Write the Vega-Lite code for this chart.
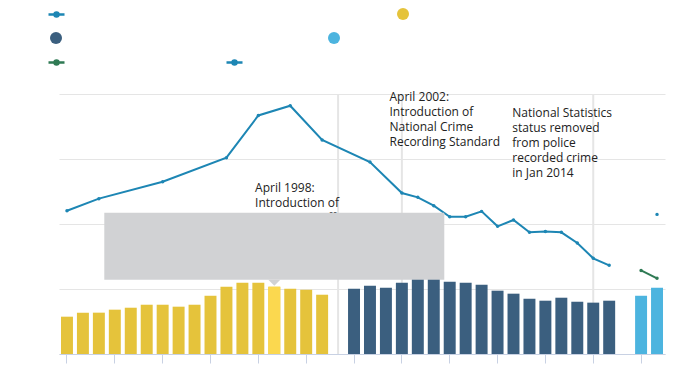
{
  "$schema": "https://vega.github.io/schema/vega-lite/v6.json",
  "width": 606,
  "height": 260,
  "autosize": {"type": "none"},
  "padding": {"left": 59, "top": 94, "right": 35, "bottom": 38},
  "background": "white",
  "config": {
    "view": {"stroke": null},
    "font": "Open Sans",
    "legend": {"padding": 0, "title": null, "labelFontSize": 1, "labelOffset": 0, "labelOpacity": 0}
  },
  "datasets": {
    "old": [
      {"period": "1981", "value": 2.87}, {"period": "1982", "value": 3.18}, {"period": "1983", "value": 3.18},
      {"period": "1984", "value": 3.41}, {"period": "1985", "value": 3.56}, {"period": "1986", "value": 3.79},
      {"period": "1987", "value": 3.79}, {"period": "1988", "value": 3.64}, {"period": "1989", "value": 3.79},
      {"period": "1990", "value": 4.48}, {"period": "1991", "value": 5.18}, {"period": "1992", "value": 5.48},
      {"period": "1993", "value": 5.48}, {"period": "1994", "value": 5.18}, {"period": "1995", "value": 5.02},
      {"period": "1996", "value": 4.95}, {"period": "1997", "value": 4.56}
    ],
    "new": [
      {"period": "1998/99", "value": 5.02}, {"period": "1999/00", "value": 5.25}, {"period": "2000/01", "value": 5.10},
      {"period": "2001/02", "value": 5.48}, {"period": "2002/03", "value": 5.85}, {"period": "2003/04", "value": 5.95},
      {"period": "2004/05", "value": 5.56}, {"period": "2005/06", "value": 5.48}, {"period": "2006/07", "value": 5.33},
      {"period": "2007/08", "value": 4.87}, {"period": "2008/09", "value": 4.64}, {"period": "2009/10", "value": 4.25},
      {"period": "2010/11", "value": 4.10}, {"period": "2011/12", "value": 4.33}, {"period": "2012/13", "value": 4.02},
      {"period": "2013/14", "value": 3.95}, {"period": "2014/15", "value": 4.10}
    ],
    "fraud": [
      {"period": "2016/17", "value": 4.48}, {"period": "2017/18", "value": 5.10}
    ],
    "csew": [
      {"period": "1981", "value": 11.02}, {"period": "1983", "value": 11.95}, {"period": "1987", "value": 13.25},
      {"period": "1991", "value": 15.1}, {"period": "1993", "value": 18.35}, {"period": "1995", "value": 19.1},
      {"period": "1997", "value": 16.46}, {"period": "1999/00", "value": 14.77}, {"period": "2001/02", "value": 12.38},
      {"period": "2002/03", "value": 12.05}, {"period": "2003/04", "value": 11.41}, {"period": "2004/05", "value": 10.56},
      {"period": "2005/06", "value": 10.56}, {"period": "2006/07", "value": 10.97}, {"period": "2007/08", "value": 9.82},
      {"period": "2008/09", "value": 10.31}, {"period": "2009/10", "value": 9.36}, {"period": "2010/11", "value": 9.43},
      {"period": "2011/12", "value": 9.36}, {"period": "2012/13", "value": 8.54}, {"period": "2013/14", "value": 7.36},
      {"period": "2014/15", "value": 6.82}
    ],
    "csewNew": [
      {"period": "2016/17", "value": 6.43}, {"period": "2017/18", "value": 5.82}
    ],
    "csewFraud": [
      {"period": "2017/18", "value": 10.74}
    ],
    "events": [
      {"period": "1997/98"}, {"period": "2001/02"}, {"period": "2013/14"}
    ]
  },
  "encoding": {
    "x": {
      "field": "period",
      "type": "ordinal",
      "scale": {
        "domain": ["1981", "1982", "1983", "1984", "1985", "1986", "1987", "1988", "1989", "1990", "1991", "1992", "1993", "1994", "1995", "1996", "1997", "1997/98", "1998/99", "1999/00", "2000/01", "2001/02", "2002/03", "2003/04", "2004/05", "2005/06", "2006/07", "2007/08", "2008/09", "2009/10", "2010/11", "2011/12", "2012/13", "2013/14", "2014/15", "2015/16", "2016/17", "2017/18"],
        "paddingInner": 0.25,
        "paddingOuter": 0.125
      },
      "axis": {
        "title": null,
        "labels": false,
        "grid": false,
        "domainColor": "#c8d1e3",
        "tickColor": "#c8d1e3",
        "tickSize": 9,
        "values": ["1981", "1984", "1987", "1990", "1993", "1996", "1998/99", "2001/02", "2004/05", "2007/08", "2010/11", "2013/14", "2016/17"]
      }
    }
  },
  "layer": [
    {
      "data": {"name": "events"},
      "mark": {"type": "rule", "color": "#e5e5e5", "strokeWidth": 2},
      "encoding": {
        "y": {"datum": 0, "type": "quantitative", "scale": {"domain": [0, 20], "nice": false},
          "axis": {"title": null, "domain": false, "ticks": false, "labels": false, "grid": true, "gridColor": "#e5e5e5", "values": [0, 5, 10, 15, 20]}},
        "y2": {"datum": 20}
      }
    },
    {
      "data": {"name": "old"},
      "mark": {"type": "bar"},
      "encoding": {
        "y": {"field": "value", "type": "quantitative"},
        "color": {
          "datum": "Police recorded crime (old counting rules)",
          "scale": {"range": ["#e5c33b"]},
          "legend": {"orient": "none", "legendX": 338, "legendY": -86, "symbolType": "circle", "symbolSize": 144, "symbolStrokeWidth": 0, "labelExpr": "''"}
        }
      }
    },
    {
      "data": {"name": "old"},
      "transform": [{"filter": "datum.period === '1994'"}],
      "mark": {"type": "bar", "color": "#fbd84f"},
      "encoding": {"y": {"field": "value", "type": "quantitative"}}
    },
    {
      "data": {"name": "new"},
      "mark": {"type": "bar"},
      "encoding": {
        "y": {"field": "value", "type": "quantitative"},
        "color": {
          "datum": "Police recorded crime",
          "scale": {"range": ["#3b5f7f"]},
          "legend": {"orient": "none", "legendX": -9, "legendY": -62, "symbolType": "circle", "symbolSize": 144, "symbolStrokeWidth": 0, "labelExpr": "''"}
        }
      }
    },
    {
      "data": {"name": "fraud"},
      "mark": {"type": "bar"},
      "encoding": {
        "y": {"field": "value", "type": "quantitative"},
        "color": {
          "datum": "Police recorded crime (new series)",
          "scale": {"range": ["#4cb4df"]},
          "legend": {"orient": "none", "legendX": 269, "legendY": -62, "symbolType": "circle", "symbolSize": 144, "symbolStrokeWidth": 0, "labelExpr": "''"}
        }
      }
    },
    {
      "data": {"name": "csew"},
      "mark": {"type": "line", "strokeWidth": 2, "point": {"filled": true, "size": 12}},
      "encoding": {
        "y": {"field": "value", "type": "quantitative"},
        "color": {
          "datum": "Crime Survey for England and Wales",
          "scale": {"range": ["#1d86b4"]},
          "legend": {
            "orient": "none", "legendX": -12, "legendY": -89, "labelExpr": "''",
            "symbolType": "M-1,0L1,0M-0.25,0A0.25,0.25,0,1,0,0.25,0A0.25,0.25,0,1,0,-0.25,0Z",
            "symbolSize": 256, "symbolStrokeWidth": 2.5,
            "encode": {"symbols": {"update": {"fill": {"value": "#1d86b4"}, "stroke": {"value": "#1d86b4"}}}}
          }
        }
      }
    },
    {
      "data": {"name": "csewNew"},
      "mark": {"type": "line", "strokeWidth": 2, "point": {"filled": true, "size": 12}},
      "encoding": {
        "y": {"field": "value", "type": "quantitative"},
        "color": {
          "datum": "CSEW (new methodology)",
          "scale": {"range": ["#2f7a54"]},
          "legend": {
            "orient": "none", "legendX": -12, "legendY": -41, "labelExpr": "''",
            "symbolType": "M-1,0L1,0M-0.25,0A0.25,0.25,0,1,0,0.25,0A0.25,0.25,0,1,0,-0.25,0Z",
            "symbolSize": 256, "symbolStrokeWidth": 2.5,
            "encode": {"symbols": {"update": {"fill": {"value": "#2f7a54"}, "stroke": {"value": "#2f7a54"}}}}
          }
        }
      }
    },
    {
      "data": {"name": "csewFraud"},
      "mark": {"type": "line", "strokeWidth": 2, "point": {"filled": true, "size": 12}},
      "encoding": {
        "y": {"field": "value", "type": "quantitative"},
        "color": {
          "datum": "CSEW including fraud and computer misuse",
          "scale": {"range": ["#1d86b4"]},
          "legend": {
            "orient": "none", "legendX": 166, "legendY": -41, "labelExpr": "''",
            "symbolType": "M-1,0L1,0M-0.25,0A0.25,0.25,0,1,0,0.25,0A0.25,0.25,0,1,0,-0.25,0Z",
            "symbolSize": 256, "symbolStrokeWidth": 2.5,
            "encode": {"symbols": {"update": {"fill": {"value": "#1d86b4"}, "stroke": {"value": "#1d86b4"}}}}
          }
        }
      }
    },
    {
      "data": {"values": [{"period": "1993", "note": "April 1998:\nIntroduction of\nnew Home Office\nCounting Rules"}]},
      "mark": {"type": "text", "align": "left", "baseline": "alphabetic", "lineBreak": "\n", "lineHeight": 15, "fontSize": 12, "color": "#222222"},
      "encoding": {
        "x": {"field": "period", "type": "ordinal", "bandPosition": 0.23},
        "y": {"datum": 12.46},
        "text": {"field": "note"}
      }
    },
    {
      "data": {"values": [{"period": "2000/01", "note": "April 2002:\nIntroduction of\nNational Crime\nRecording Standard"}]},
      "mark": {"type": "text", "align": "left", "baseline": "alphabetic", "lineBreak": "\n", "lineHeight": 15, "fontSize": 12, "color": "#222222"},
      "encoding": {
        "x": {"field": "period", "type": "ordinal", "bandPosition": 0.8},
        "y": {"datum": 19.48},
        "text": {"field": "note"}
      }
    },
    {
      "data": {"values": [{"period": "2008/09", "note": "National Statistics\nstatus removed\nfrom police\nrecorded crime\nin Jan 2014"}]},
      "mark": {"type": "text", "align": "left", "baseline": "alphabetic", "lineBreak": "\n", "lineHeight": 15, "fontSize": 12, "color": "#222222"},
      "encoding": {
        "x": {"field": "period", "type": "ordinal", "bandPosition": 0.4},
        "y": {"datum": 18.2},
        "text": {"field": "note"}
      }
    },
    {
      "data": {"values": [{"period": "1994"}]},
      "mark": {"type": "bar", "color": "#d1d2d4", "width": 340},
      "encoding": {
        "y": {"datum": 5.72},
        "y2": {"datum": 10.87}
      }
    },
    {
      "data": {"values": [{"period": "1994"}]},
      "mark": {"type": "point", "filled": true, "color": "#d1d2d4", "opacity": 1, "size": 144, "shape": "M-1,-1L1,-1L0,0Z"},
      "encoding": {
        "y": {"datum": 5.25}
      }
    }
  ],
  "resolve": {"scale": {"color": "independent"}}
}
